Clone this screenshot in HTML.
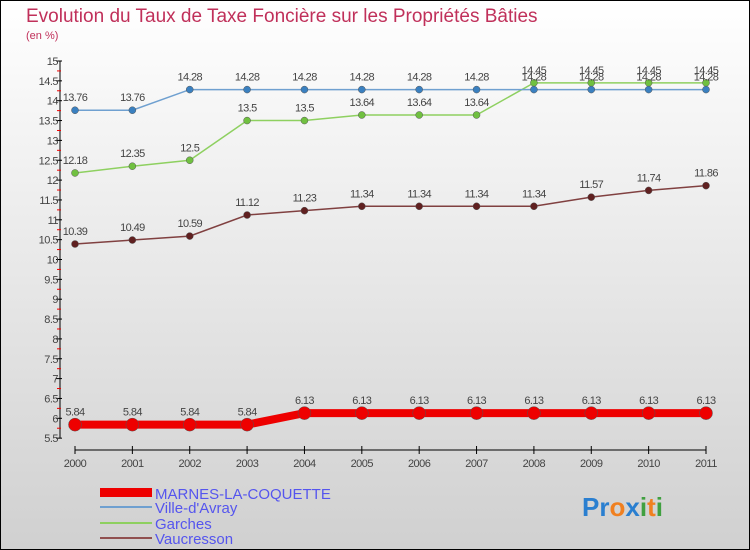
<!DOCTYPE html>
<html><head><meta charset="utf-8"><style>
body{margin:0}
svg{display:block;font-family:"Liberation Sans",sans-serif}
</style></head><body>
<svg width="750" height="550" xmlns="http://www.w3.org/2000/svg">
<defs><linearGradient id="bg" x1="0" y1="0" x2="0" y2="1"><stop offset="0" stop-color="#ffffff"/><stop offset="1" stop-color="#d0d0d0"/></linearGradient></defs>
<rect x="0.5" y="0.5" width="749" height="549" fill="url(#bg)" stroke="#000"/>
<text x="26" y="22" font-size="19" fill="#c0305a" font-weight="300">Evolution du Taux de Taxe Foncière sur les Propriétés Bâties</text>
<text x="26" y="39" font-size="11" fill="#c0305a">(en %)</text>
<g id="axes"></g>
<g id="series"></g>
<g>
<rect x="100" y="488" width="52" height="9" fill="#e00"/>
<text x="155" y="499" font-size="15" fill="#5555ee">MARNES-LA-COQUETTE</text>
<line x1="100" y1="507" x2="152" y2="507" stroke="#6fa0d0" stroke-width="2"/>
<text x="155" y="513" font-size="15" fill="#5555ee">Ville-d'Avray</text>
<line x1="100" y1="523" x2="152" y2="523" stroke="#8ed060" stroke-width="2"/>
<text x="155" y="529" font-size="15" fill="#5555ee">Garches</text>
<line x1="100" y1="538" x2="152" y2="538" stroke="#905050" stroke-width="2"/>
<text x="155" y="544" font-size="15" fill="#5555ee">Vaucresson</text>
</g>
<text x="582" y="516" font-size="26" font-weight="bold"><tspan fill="#2a7fd0">Pr</tspan><tspan fill="#f08020">o</tspan><tspan fill="#2a7fd0">x</tspan><tspan fill="#40a040">i</tspan><tspan fill="#f08020">t</tspan><tspan fill="#40a040">i</tspan></text>
</svg>
<script>
const years=["2000","2001","2002","2003","2004","2005","2006","2007","2008","2009","2010","2011"];
const marnes=[5.84,5.84,5.84,5.84,6.13,6.13,6.13,6.13,6.13,6.13,6.13,6.13];
const ville=[13.76,13.76,14.28,14.28,14.28,14.28,14.28,14.28,14.28,14.28,14.28,14.28];
const garches=[12.18,12.35,12.5,13.5,13.5,13.64,13.64,13.64,14.45,14.45,14.45,14.45];
const vauc=[10.39,10.49,10.59,11.12,11.23,11.34,11.34,11.34,11.34,11.57,11.74,11.86];
const yTicks=[5.5,6,6.5,7,7.5,8,8.5,9,9.5,10,10.5,11,11.5,12,12.5,13,13.5,14,14.5,15];
const NS="http://www.w3.org/2000/svg";
const X=i=>75+i*(706-75)/11;
const Y=v=>61+(15-v)*39.7;
function mk(t,a,p){const e=document.createElementNS(NS,t);for(const k in a)e.setAttribute(k,a[k]);p.appendChild(e);return e;}
const ax=document.getElementById('axes');
let l=mk('line',{x1:60,y1:Y(15),x2:60,y2:Y(5.5),stroke:'#000'},ax);


yTicks.forEach((v,k)=>{
 mk('line',{x1:56,y1:Y(v),x2:62,y2:Y(v),stroke:'#000'},ax);
 if(k<yTicks.length-1) mk('line',{x1:57,y1:Y(v+0.25),x2:61,y2:Y(v+0.25),stroke:'#e00'},ax);
 const t=mk('text',{x:58,y:Y(v)+4,'font-size':11,'text-anchor':'end',fill:'#444','letter-spacing':'-0.5'},ax);
 t.textContent=v;
 
 
});
l=mk('line',{x1:75,y1:450,x2:706,y2:450,stroke:'#000'},ax);


years.forEach((y,i)=>{
 mk('line',{x1:X(i),y1:446,x2:X(i),y2:454,stroke:'#000'},ax);
 const t=mk('text',{x:X(i),y:467,'font-size':11,'text-anchor':'middle',fill:'#444','letter-spacing':'-0.5'},ax);
 t.textContent=y;
 
 
});
const sg=document.getElementById('series');
function series(name,vals,col,w,r,fill){
 const g=mk('g',{},sg);
 
 
 mk('polyline',{points:vals.map((v,i)=>X(i)+','+Y(v)).join(' '),fill:'none',stroke:col,'stroke-width':w},g);
 vals.forEach((v,i)=>{
  const c=mk('circle',{cx:X(i),cy:Y(v),r:r,fill:fill,stroke:'#555','stroke-width':0.5},g);
  
  
  const t=mk('text',{x:X(i),y:Y(v)-9,'font-size':11,'text-anchor':'middle',fill:'#444','letter-spacing':'-0.6'},g);
  t.textContent=v;
  
  
 });
}
series('vaucresson',vauc,'#804040',1.5,3.5,'#602020');
series('garches',garches,'#8ed060',1.5,3.5,'#70c040');
series('ville-davray',ville,'#6fa0d0',1.5,3.5,'#3a80c0');
series('marnes',marnes,'#e00',8,6.5,'#e00');
</script>
</body></html>
